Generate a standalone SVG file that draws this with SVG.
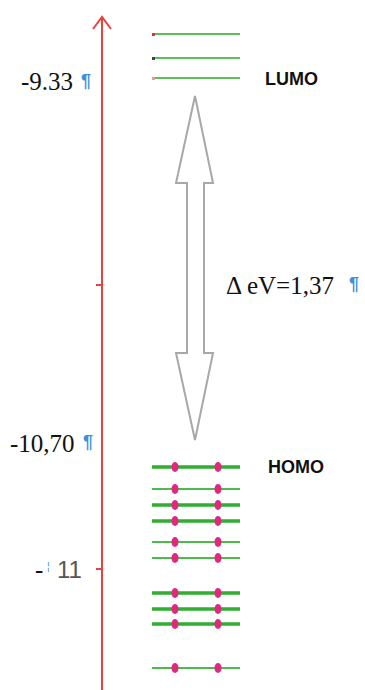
<svg xmlns="http://www.w3.org/2000/svg" width="365" height="690" viewBox="0 0 365 690">
<style>
.axis{stroke:#e8413f;stroke-width:2;fill:none}
.lumo{stroke:#5cbf5c;stroke-width:2}
.thick{stroke:#2fae2f;stroke-width:3.5}
.thin{stroke:#4cbb4c;stroke-width:2}
.e{fill:#e0287f}
.num{font-family:"Liberation Serif",serif;font-size:25px;fill:#111}
.lbl{font-family:"Liberation Sans",Arial,sans-serif;font-size:18px;font-weight:bold;fill:#111}
.pil{font-family:"Liberation Sans",Arial,sans-serif;font-size:18px;font-weight:bold;fill:#3d8fe0}
</style>
<g id="axis">
<line class="axis" x1="102" y1="17" x2="102" y2="690"/>
<polyline class="axis" points="93,29 102,17 111,29"/>
<line class="axis" x1="96" y1="285" x2="102" y2="285"/>
<line class="axis" x1="96" y1="569" x2="102" y2="569"/>
</g>
<g id="axis-labels">
<text class="num" x="21" y="90">-9.33</text>
<text class="pil" x="81" y="87">¶</text>
<text class="num" x="10" y="452">-10,70</text>
<text class="pil" x="83" y="448">¶</text>
<text class="num" x="35" y="578">-</text>
<text class="pil" x="47" y="570" style="font-size:10px;font-weight:normal">¦</text>
<text x="57" y="578" style="font-family:'Liberation Sans',Arial,sans-serif;font-size:24px;fill:#555">11</text>
</g>
<g id="lumo">
<line class="lumo" x1="153" y1="34" x2="240" y2="34"/>
<line class="lumo" x1="153" y1="58" x2="240" y2="58"/>
<line class="lumo" x1="153" y1="78" x2="240" y2="78"/>
<rect x="152" y="33" width="3" height="3" fill="#d33"/>
<rect x="152" y="57" width="3" height="3" fill="#444"/>
<rect x="152" y="77" width="3" height="3" fill="#e99"/>
<text class="lbl" x="265" y="85">LUMO</text>
</g>
<g id="gap-arrow">
<path d="M195,96 L213,183 L204,183 L204,353 L213,353 L195,440 L176,353 L187,353 L187,183 L176,183 Z" fill="#fff" stroke="#a8a8a8" stroke-width="2"/>
</g>
<g id="gap-label">
<text class="num" x="226" y="294">Δ eV=1,37</text>
<text class="pil" x="349" y="290">¶</text>
</g>
<g id="homo">
<line class="thick" x1="152" y1="467" x2="240" y2="467"/>
<line class="thin" x1="152" y1="489" x2="240" y2="489"/>
<line class="thick" x1="152" y1="505" x2="240" y2="505"/>
<line class="thick" x1="152" y1="521" x2="240" y2="521"/>
<line class="thin" x1="152" y1="542" x2="240" y2="542"/>
<line class="thin" x1="152" y1="558" x2="240" y2="558"/>
<line class="thick" x1="152" y1="593" x2="240" y2="593"/>
<line class="thick" x1="152" y1="609" x2="240" y2="609"/>
<line class="thick" x1="152" y1="624" x2="240" y2="624"/>
<line class="thin" x1="152" y1="668" x2="240" y2="668"/>
<g class="e">
<ellipse cx="175" cy="467" rx="3.5" ry="5"/><ellipse cx="218" cy="467" rx="3.5" ry="5"/>
<ellipse cx="175" cy="489" rx="3.5" ry="5"/><ellipse cx="218" cy="489" rx="3.5" ry="5"/>
<ellipse cx="175" cy="505" rx="3.5" ry="5"/><ellipse cx="218" cy="505" rx="3.5" ry="5"/>
<ellipse cx="175" cy="521" rx="3.5" ry="5"/><ellipse cx="218" cy="521" rx="3.5" ry="5"/>
<ellipse cx="175" cy="542" rx="3.5" ry="5"/><ellipse cx="218" cy="542" rx="3.5" ry="5"/>
<ellipse cx="175" cy="558" rx="3.5" ry="5"/><ellipse cx="218" cy="558" rx="3.5" ry="5"/>
<ellipse cx="175" cy="593" rx="3.5" ry="5"/><ellipse cx="218" cy="593" rx="3.5" ry="5"/>
<ellipse cx="175" cy="609" rx="3.5" ry="5"/><ellipse cx="218" cy="609" rx="3.5" ry="5"/>
<ellipse cx="175" cy="624" rx="3.5" ry="5"/><ellipse cx="218" cy="624" rx="3.5" ry="5"/>
<ellipse cx="175" cy="668" rx="3.5" ry="5"/><ellipse cx="218" cy="668" rx="3.5" ry="5"/>
</g>
<text class="lbl" x="268" y="473">HOMO</text>
</g>
</svg>
